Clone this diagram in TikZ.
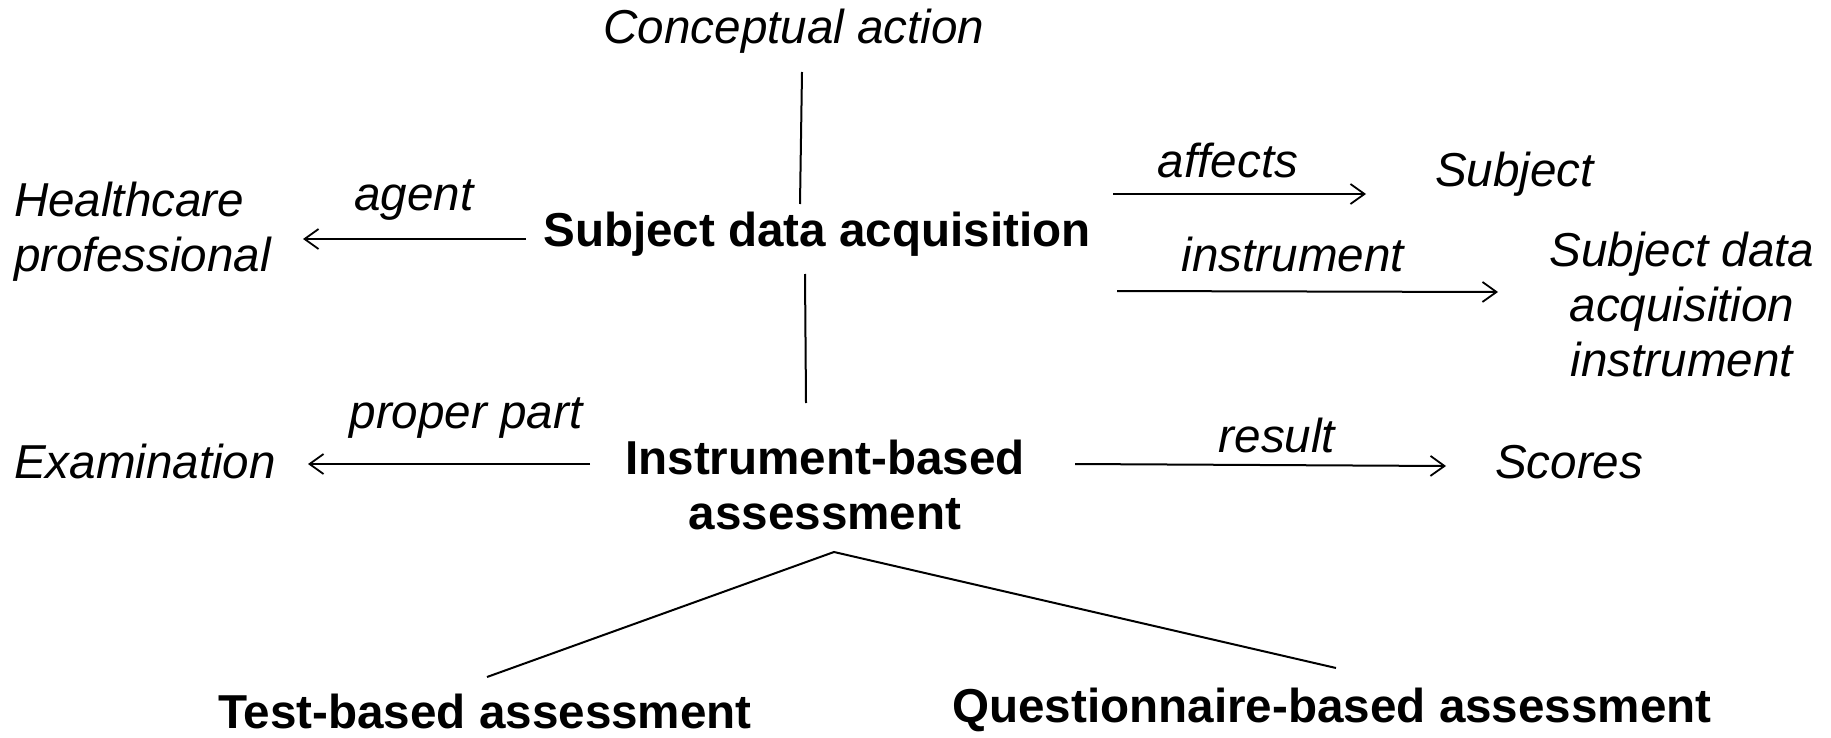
\documentclass[tikz,border=0pt]{standalone}
\usepackage{fontspec}
\setmainfont{Liberation Sans}
\usetikzlibrary{arrows.meta}
\begin{document}
\begin{tikzpicture}[x=0.5pt,y=-0.5pt,
  every node/.style={inner sep=0pt,outer sep=0pt},
  txt/.style={font=\fontsize{23.8}{27.4}\selectfont\itshape},
  head/.style={font=\fontsize{23.8}{27.4}\selectfont\bfseries},
  link/.style={line width=1pt,black},
  arr/.style={link,-{Straight Barb[length=7pt,width=10pt,line width=0.9pt]}}]
\useasboundingbox (0,0) rectangle (1831,738);

% concepts (multi-line nodes are placed by the baseline of their last line)
\node[txt,anchor=base] (ca) at (794,44) {Conceptual action};
\node[head,anchor=base] (sda) at (817,246) {Subject data acquisition};
\node[txt,anchor=base west,align=left] (hp) at (14,271) {Healthcare\\professional};
\node[txt,anchor=base west] (subj) at (1435,186) {Subject};
\node[txt,anchor=base,align=center] (inst) at (1682,376) {Subject data\\acquisition\\instrument};
\node[head,anchor=base,align=center] (iba) at (825,529) {Instrument-based\\assessment};
\node[txt,anchor=base west] (exam) at (14,478) {Examination};
\node[txt,anchor=base west] (scores) at (1495,478) {Scores};
\node[head,anchor=base] (tba) at (485,728) {Test-based assessment};
\node[head,anchor=base] (qba) at (1332,722) {Questionnaire-based assessment};

% relation labels
\node[txt,anchor=base] (lagent) at (414,210) {agent};
\node[txt,anchor=base] (laffects) at (1228,177) {affects};
\node[txt,anchor=base] (linstr) at (1293,271) {instrument};
\node[txt,anchor=base] (lpart) at (466,428) {proper part};
\node[txt,anchor=base] (lresult) at (1277,452) {result};

% connector end points
\coordinate (caB) at (802,72);   \coordinate (sdaT) at (800,204);
\coordinate (sdaB) at (805,274); \coordinate (ibaT) at (806,403);
\coordinate (agS) at (526,239);  \coordinate (agE) at (303,239);
\coordinate (afS) at (1113,194); \coordinate (afE) at (1366,194);
\coordinate (inS) at (1117,291); \coordinate (inE) at (1498,292);
\coordinate (ppS) at (590,464);  \coordinate (ppE) at (308,464);
\coordinate (reS) at (1075,464); \coordinate (reE) at (1446,466);
\coordinate (apex) at (834,552);
\coordinate (tbaT) at (487,677); \coordinate (qbaT) at (1336,668);

% connectors
\draw[link] (caB) -- (sdaT);
\draw[link] (sdaB) -- (ibaT);
\draw[arr] (agS) -- (agE);
\draw[arr] (afS) -- (afE);
\draw[arr] (inS) -- (inE);
\draw[arr] (ppS) -- (ppE);
\draw[arr] (reS) -- (reE);
\draw[link] (tbaT) -- (apex) -- (qbaT);
\end{tikzpicture}
\end{document}
